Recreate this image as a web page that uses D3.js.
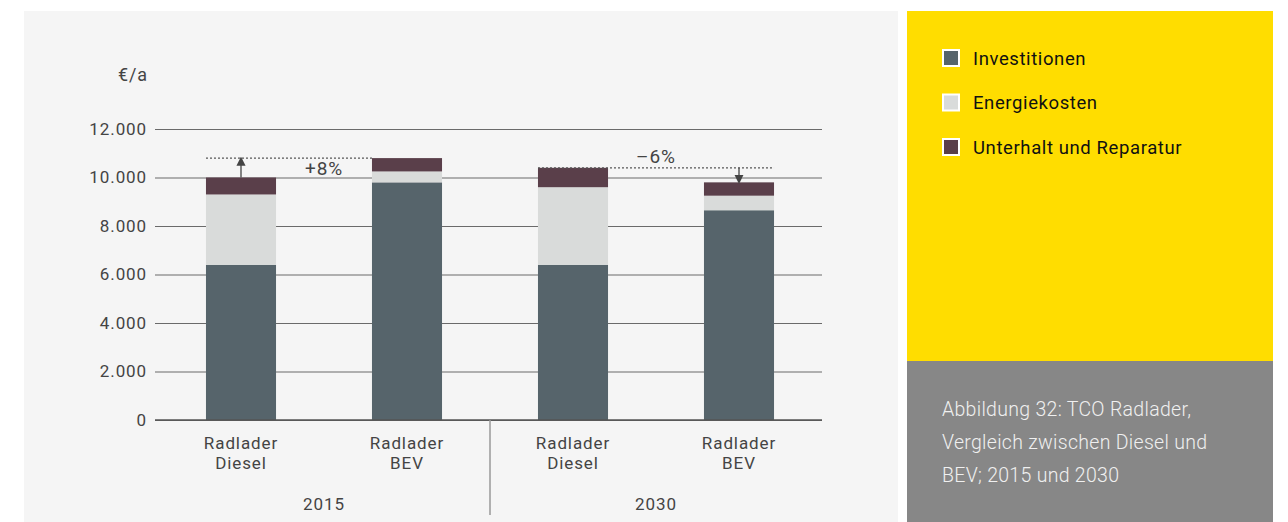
<!DOCTYPE html>
<html><head><meta charset="utf-8">
<script src="https://cdn.jsdelivr.net/npm/d3@7"></script>
<style>
html,body{margin:0;padding:0;background:#fff;}
svg{display:block;}
</style></head>
<body>
<svg id="c" width="1288" height="522"></svg>
<script>
const categories = ["Radlader\nDiesel", "Radlader\nBEV", "Radlader\nDiesel", "Radlader\nBEV"];
const years = ["2015", "2030"];
const seriesNames = ["Investitionen", "Energiekosten", "Unterhalt und Reparatur"];
const investitionen = [6400, 9800, 6400, 8650];
const energiekosten = [2900, 450, 3200, 600];
const unterhalt = [700, 550, 800, 550];
const yTicks = [0, 2000, 4000, 6000, 8000, 10000, 12000];
const yUnit = "€/a";
const changes = ["+8%", "–6%"];
const caption = ["Abbildung 32: TCO Radlader,", "Vergleich zwischen Diesel und", "BEV; 2015 und 2030"];

const colors = ["#56646b", "#d9dbda", "#5a3f4a"];
const svg = d3.select("#c");
const font = "Roboto, 'Liberation Sans', Arial, sans-serif";
const ls = "0.9px";

// panels
svg.append("rect").attr("x",24).attr("y",11).attr("width",874).attr("height",511).attr("fill","#f5f5f5");
svg.append("rect").attr("x",907).attr("y",11).attr("width",366).attr("height",350).attr("fill","#ffdd00");
svg.append("rect").attr("x",907).attr("y",361).attr("width",366).attr("height",161).attr("fill","#878787");

const y = d3.scaleLinear().domain([0,12000]).range([420,129]);
const x = d3.scaleBand().domain(d3.range(categories.length)).range([158,822]).paddingInner(0.578).paddingOuter(0.289);

// grid
const yAxis = d3.axisLeft(y).tickValues(yTicks).tickSize(-(822-155)).tickPadding(9)
  .tickFormat(d => d3.format(",")(d).replace(/,/g,"."));
const ga = svg.append("g").attr("transform","translate(155,0)").call(yAxis);
ga.select(".domain").remove();
ga.selectAll(".tick line").attr("stroke","#6a6a6a").attr("stroke-width",1.2);
ga.selectAll(".tick text").attr("font-family",font).attr("font-size",17).attr("letter-spacing",ls)
  .attr("fill","#444").attr("x",-8);

svg.append("text").attr("x",133).attr("y",81).attr("text-anchor","middle").attr("letter-spacing",ls)
  .attr("font-family",font).attr("font-size",18).attr("fill","#444").text(yUnit);

// stacks
const rows = categories.map((c,i)=>({i, Investitionen:investitionen[i], Energiekosten:energiekosten[i], "Unterhalt und Reparatur":unterhalt[i]}));
const stack = d3.stack().keys(seriesNames)(rows);
stack.forEach((s,k)=>{
  svg.append("g").selectAll("rect").data(s).join("rect")
    .attr("x",d=>x(d.data.i)).attr("width",x.bandwidth())
    .attr("y",d=>y(d[1])).attr("height",d=>y(d[0])-y(d[1]))
    .attr("fill",colors[k]);
});

// baseline
svg.append("line").attr("x1",155).attr("x2",822).attr("y1",y(0)).attr("y2",y(0)).attr("stroke","#555").attr("stroke-width",1.5);
// separator
svg.append("line").attr("x1",490).attr("x2",490).attr("y1",y(0)).attr("y2",515).attr("stroke","#999").attr("stroke-width",1.5);

// category labels
categories.forEach((c,i)=>{
  const t = svg.append("text").attr("text-anchor","middle").attr("font-family",font).attr("font-size",17)
    .attr("letter-spacing",ls).attr("fill","#444");
  c.split("\n").forEach((l,j)=>t.append("tspan").attr("x",x(i)+x.bandwidth()/2).attr("y",449+j*20).text(l));
});
years.forEach((yr,g)=>{
  const cx = (x(2*g)+x(2*g+1)+x.bandwidth())/2;
  svg.append("text").attr("x",cx).attr("y",510).attr("text-anchor","middle").attr("font-family",font).attr("font-size",17)
    .attr("letter-spacing",ls).attr("fill","#444").text(yr);
});

// totals & comparisons
const totals = rows.map((r,i)=>investitionen[i]+energiekosten[i]+unterhalt[i]);
svg.append("defs").append("marker").attr("id","ah").attr("viewBox","0 0 10 10").attr("refX",5).attr("refY",5)
  .attr("markerWidth",7).attr("markerHeight",7).attr("orient","auto-start-reverse")
  .append("path").attr("d","M0,0 L10,5 L0,10 z").attr("fill","#444");

// 2015: increase
{
  const ly = y(totals[1]);
  svg.append("line").attr("x1",x(0)).attr("x2",x(1)).attr("y1",ly).attr("y2",ly)
    .attr("stroke","#555").attr("stroke-dasharray","2,2").attr("stroke-width",1.2);
  const ax = x(0)+x.bandwidth()/2;
  svg.append("line").attr("x1",ax).attr("x2",ax).attr("y1",y(totals[0])).attr("y2",ly+3)
    .attr("stroke","#444").attr("stroke-width",1.3).attr("marker-end","url(#ah)");
  svg.append("text").attr("x",(x(0)+x.bandwidth()+x(1))/2).attr("y",ly+17).attr("text-anchor","middle")
    .attr("font-family",font).attr("font-size",19).attr("letter-spacing",ls).attr("fill","#444").text(changes[0]);
}
// 2030: decrease
{
  const ly = y(totals[2]);
  svg.append("line").attr("x1",x(2)).attr("x2",x(3)+x.bandwidth()).attr("y1",ly).attr("y2",ly)
    .attr("stroke","#555").attr("stroke-dasharray","2,2").attr("stroke-width",1.2);
  const ax = x(3)+x.bandwidth()/2;
  svg.append("line").attr("x1",ax).attr("x2",ax).attr("y1",ly).attr("y2",y(totals[3])-3)
    .attr("stroke","#444").attr("stroke-width",1.3).attr("marker-end","url(#ah)");
  svg.append("text").attr("x",(x(2)+x.bandwidth()+x(3))/2).attr("y",ly-5).attr("text-anchor","middle")
    .attr("font-family",font).attr("font-size",19).attr("letter-spacing",ls).attr("fill","#444").text(changes[1]);
}

// legend
seriesNames.forEach((n,i)=>{
  const cy = 58 + i*44.5;
  svg.append("rect").attr("x",942).attr("y",cy-9).attr("width",18).attr("height",18).attr("fill","#fff");
  svg.append("rect").attr("x",944).attr("y",cy-7).attr("width",14).attr("height",14).attr("fill",colors[i]);
  svg.append("text").attr("x",973).attr("y",cy+6.5).attr("font-family",font).attr("font-size",18.5)
    .attr("letter-spacing","0.6px").attr("fill","#111").text(n);
});

// caption
caption.forEach((l,i)=>{
  svg.append("text").attr("x",942).attr("y",416+i*33).attr("font-family",font).attr("font-weight",300)
    .attr("font-size",19.5).attr("letter-spacing","0.3px").attr("fill","#f0f0f0").text(l);
});
</script>
</body></html>
